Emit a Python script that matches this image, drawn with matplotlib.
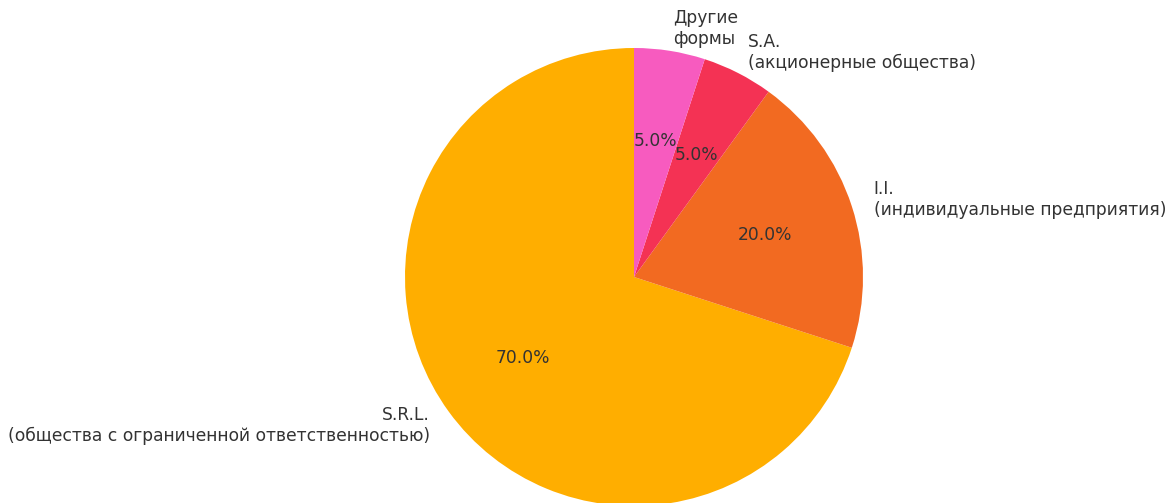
import matplotlib
matplotlib.use("Agg")
import matplotlib.pyplot as plt

# Данные
categorias = ["S.R.L.\n(общества с ограниченной ответственностью)",
              "I.I.\n(индивидуальные предприятия)",
              "S.A.\n(акционерные общества)",
              "Другие\nформы"]
porcentajes = [70, 20, 5, 5]
colores = ["#FFAE00", "#F26A21", "#F43254", "#F75BBF"]

fig = plt.figure(figsize=(11.74, 5.03), dpi=100)
W, H = 1174, 503
cx, cy, r = 634, 277, 229
lado = 2.5 * r
ax = fig.add_axes([(cx - lado / 2) / W, (H - cy - lado / 2) / H, lado / W, lado / H])

wedges, textos, autotextos = ax.pie(porcentajes, labels=categorias, colors=colores,
                                    autopct="%1.1f%%", startangle=90,
                                    textprops={"fontsize": 12.3, "color": "#333333"})
ax.set_xlim(-1.25, 1.25)
ax.set_ylim(-1.25, 1.25)

fig.savefig("out.png", dpi=100)
